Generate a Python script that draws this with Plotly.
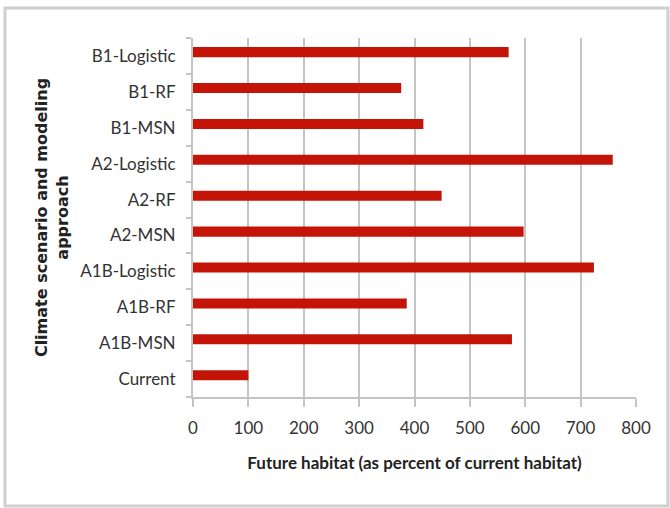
import plotly.graph_objects as go

categories = ["Current", "A1B-MSN", "A1B-RF", "A1B-Logistic", "A2-MSN",
              "A2-RF", "A2-Logistic", "B1-MSN", "B1-RF", "B1-Logistic"]
habitat_pct = [100, 576, 386, 724, 597, 449, 758, 416, 376, 570]
x_ticks = [0, 100, 200, 300, 400, 500, 600, 700, 800]

GRID = "#C4C4C4"
BAR = "#C41408"

W, H = 670, 508
L, R, T, B = 193, 34, 38, 111
pw, ph = W - L - R, H - T - B

def px_to_paper_x(px):
    return (px - L) / pw

def py_to_paper_y(py):
    return (H - B - py) / ph

fig = go.Figure()
fig.add_trace(go.Bar(
    x=habitat_pct, y=categories, orientation="h",
    marker=dict(color=BAR, line=dict(width=0)),
    width=0.28, offset=-0.033,
    hoverinfo="x+y",
))

fig.update_layout(
    width=W, height=H,
    margin=dict(l=L, r=R, t=T, b=B),
    paper_bgcolor="white", plot_bgcolor="white",
    showlegend=False,
    font=dict(family="Lato", color="#333333"),
    xaxis=dict(
        range=[0, 800], tickvals=x_ticks, ticktext=[str(v) for v in x_ticks],
        showgrid=True, gridcolor=GRID, gridwidth=2,
        zeroline=False,
        showline=True, linecolor=GRID, linewidth=2,
        ticks="outside", ticklen=8, tickcolor=GRID, tickwidth=2,
        tickfont=dict(family="Lato", size=17, color="#333333"),
        ticklabelstandoff=7,
        title=dict(text="Future habitat (as percent of current habitat)",
                   font=dict(family="Lato", size=17, color="#222222", weight="bold"),
                   standoff=20),
        fixedrange=True,
    ),
    yaxis=dict(
        type="category", categoryorder="array", categoryarray=categories,
        range=[-0.5, 9.5],
        showgrid=False, zeroline=False,
        showline=True, linecolor=GRID, linewidth=2,
        ticks="outside", ticklen=5, tickcolor=GRID, tickwidth=2,
        tickson="boundaries",
        tickfont=dict(family="Lato", size=17, color="#333333"),
        ticklabelstandoff=12,
        title=dict(text="Climate scenario and modeling<br>approach",
                   font=dict(family="DejaVu Sans", size=16, color="#222222", weight="bold"),
                   standoff=8),
        fixedrange=True,
    ),
    shapes=[
        dict(type="rect", xref="paper", yref="paper",
             x0=px_to_paper_x(5), x1=px_to_paper_x(668),
             y0=py_to_paper_y(506), y1=py_to_paper_y(8),
             line=dict(color="#CFCFCF", width=3), fillcolor="rgba(0,0,0,0)",
             layer="below"),
    ],
)

fig.write_html("out.html", config={"displayModeBar": False},
               post_script="document.body.style.margin='0';")
